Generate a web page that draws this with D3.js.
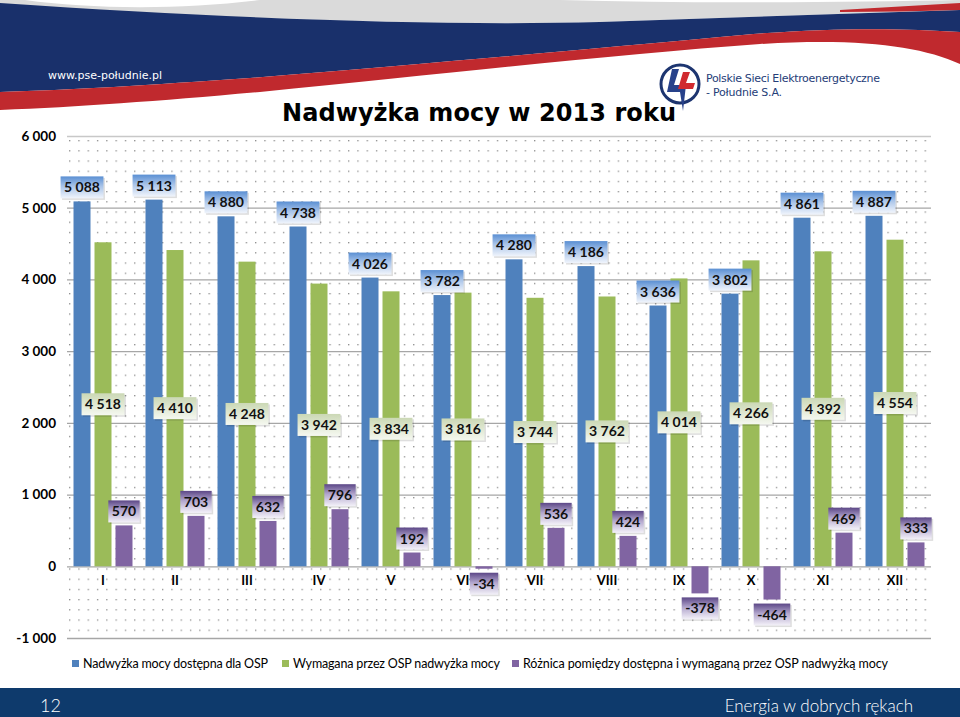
<!DOCTYPE html>
<html><head><meta charset="utf-8">
<script src="https://cdn.jsdelivr.net/npm/d3@7"></script>
<style>body{margin:0;background:#fff}svg{display:block}</style>
</head><body>
<svg id="c" width="960" height="717"></svg>
<script>
const months = ["I","II","III","IV","V","VI","VII","VIII","IX","X","XI","XII"];
const available = [5088,5113,4880,4738,4026,3782,4280,4186,3636,3802,4861,4887];
const required = [4518,4410,4248,3942,3834,3816,3744,3762,4014,4266,4392,4554];
const difference = [570,703,632,796,192,-34,536,424,-378,-464,469,333];
const yTicks = [-1000,0,1000,2000,3000,4000,5000,6000];
const seriesNames = ["Nadwyżka mocy dostępna dla OSP","Wymagana przez OSP nadwyżka mocy","Różnica pomiędzy dostępna i wymaganą przez OSP nadwyżką mocy"];
const colors = ["#4f81bd","#9bbb59","#8064a2"];
const title = "Nadwyżka mocy w 2013 roku";

const svg = d3.select("#c");
const plot = {left:67,right:931,top:136,bottom:638};
const x0 = d3.scaleBand().domain(months).range([plot.left,plot.right]);
const x1 = d3.scaleBand().domain([0,1,2]).range([0,x0.bandwidth()]).paddingInner(4/21).paddingOuter(0.31);
const y = d3.scaleLinear().domain([-1000,6000]).range([plot.bottom,plot.top]);
const loc = d3.formatLocale({decimal:",",thousands:" ",grouping:[3],currency:["",""],minus:"-"});
const fmt = loc.format(",d");

const defs = svg.append("defs");
const pat = defs.append("pattern").attr("id","dots").attr("patternUnits","userSpaceOnUse")
  .attr("x",69).attr("y",140).attr("width",9.3).attr("height",10.2);
pat.append("rect").attr("x",0).attr("y",0).attr("width",1.3).attr("height",1.3).attr("fill","#8c8c8c");
function grad(id, stops){
  const g = defs.append("linearGradient").attr("id",id).attr("x1",0).attr("y1",0).attr("x2",0).attr("y2",1);
  stops.forEach(s=>g.append("stop").attr("offset",s[0]).attr("stop-color",s[1]));
}
grad("gBlue",[[0,"#5a8fd3"],[0.45,"#a9c4e9"],[1,"#f1f5fc"]]);
grad("gGreen",[[0,"#cbd8b5"],[1,"#f5f8f0"]]);
grad("gPurple",[[0,"#5c4787"],[0.45,"#b2a6cd"],[1,"#f4f2f9"]]);
const labelFills = ["url(#gBlue)","url(#gGreen)","url(#gPurple)"];

// ---------- header ----------
const hdr = svg.append("g");
hdr.append("path").attr("d","M0,0 H960 V10 C840,14 720,18 600,22 C450,26 250,20 0,5 Z").attr("fill","#dadada");
hdr.append("path").attr("d","M25,0 C90,9 180,10 260,0 Z").attr("fill","#fff");
hdr.append("path").attr("d","M560,0 C700,4 850,2 960,0 Z").attr("fill","#fff");
hdr.append("path").attr("d","M0,3 C250,20 450,26 600,22 C720,18 840,14 960,10 L960,32 C900,28 820,27 720,37 C600,48 450,62 250,78 C150,85 70,90 0,92 Z").attr("fill","#19306b");
hdr.append("path").attr("d","M0,92 C70,90 150,85 250,78 C450,62 600,48 720,37 C820,27 900,28 960,32 L960,64 C920,46 860,38 760,44 C620,54 460,72 260,92 C160,101 80,107 0,110 Z").attr("fill","#c0292e");
hdr.append("path").attr("d","M840,10 C880,8 920,5 960,3 L960,10 C920,11 880,12 840,12 Z").attr("fill","#c0292e");
hdr.append("text").attr("x",48).attr("y",79).attr("fill","#fff")
  .style("font-family","DejaVu Sans").style("font-size","11px").attr("textLength",114).text("www.pse-południe.pl");

// logo
const logo = svg.append("g");
logo.append("circle").attr("cx",680).attr("cy",84).attr("r",19).attr("fill","#fff").attr("stroke","#1d3570").attr("stroke-width",3);
logo.append("path").attr("d","M672,69 L679,69 L674,85 L686,85 L683,111 L680,92 L667,92 Z").attr("fill","#27418a");
logo.append("path").attr("d","M683,72 L690,72 L686,83 L695,83 L693,89 L678,89 Z").attr("fill","#d02a2f");
logo.append("text").attr("x",706).attr("y",82).attr("fill","#253d78").style("font-family","DejaVu Sans").style("font-size","11px")
  .attr("textLength",174).text("Polskie Sieci Elektroenergetyczne");
logo.append("text").attr("x",706).attr("y",96).attr("fill","#253d78").style("font-family","DejaVu Sans").style("font-size","11px")
  .attr("textLength",76).text("- Południe S.A.");

// title
svg.append("text").attr("x",479).attr("y",121).attr("text-anchor","middle")
  .style("font-family","DejaVu Sans").style("font-weight","bold").style("font-size","24px")
  .attr("textLength",394).attr("fill","#000").text(title);

// ---------- plot background ----------
svg.append("rect").attr("x",plot.left).attr("y",plot.top).attr("width",plot.right-plot.left).attr("height",plot.bottom-plot.top).attr("fill","url(#dots)");

// gridlines
const grid = svg.append("g").attr("transform",`translate(${plot.left},0)`)
  .call(d3.axisLeft(y).tickValues(yTicks).tickSize(-(plot.right-plot.left)).tickFormat(""));
grid.select(".domain").remove();
grid.selectAll(".tick line").attr("stroke",d=>d===6000?"#c8c8c8":"#a6a6a6").attr("stroke-width",1.3);

// y tick labels
const yAx = svg.append("g").attr("transform",`translate(${plot.left},0)`)
  .call(d3.axisLeft(y).tickValues(yTicks).tickSize(0).tickPadding(11).tickFormat(fmt));
yAx.select(".domain").remove();
yAx.selectAll("text").style("font-family","Lato").style("font-weight","bold").style("font-size","13.5px").attr("fill","#000");

// bars
const seriesData = [available, required, difference];
const bars = svg.append("g");
seriesData.forEach((vals,si)=>{
  bars.selectAll(null).data(vals).enter().append("rect")
    .attr("x",(d,i)=>x0(months[i])+x1(si))
    .attr("width",x1.bandwidth())
    .attr("y",d=>y(Math.max(0,d)))
    .attr("height",d=>Math.abs(y(d)-y(0)))
    .attr("fill",colors[si]);
});

// month labels
const xAx = svg.append("g").attr("transform",`translate(0,${y(0)})`)
  .call(d3.axisBottom(x0).tickSize(0).tickPadding(9));
xAx.select(".domain").remove();
xAx.selectAll("text").style("font-family","Lato").style("font-weight","bold").style("font-size","13px").attr("fill","#000");

// data labels
const lbl = svg.append("g");
function addLabel(cx, cy, text, fill){
  const g = lbl.append("g");
  const t = g.append("text").attr("x",cx).attr("y",cy).attr("dy","0.36em").attr("text-anchor","middle")
    .style("font-family","Lato").style("font-weight","bold").style("font-size","14px").attr("fill","#111").text(text);
  const w = t.node().getComputedTextLength()+7, h=22;
  g.insert("rect","text").attr("x",cx-w/2+1.5).attr("y",cy-h/2+1.5).attr("width",w).attr("height",h).attr("fill","rgba(0,0,0,0.13)");
  g.insert("rect","text").attr("x",cx-w/2).attr("y",cy-h/2).attr("width",w).attr("height",h).attr("fill",fill);
}
months.forEach((m,i)=>{
  const bx = si => x0(m)+x1(si)+x1.bandwidth()/2;
  addLabel(bx(0), y(available[i])-14, fmt(available[i]), labelFills[0]);
  addLabel(bx(1), y(required[i]/2), fmt(required[i]), labelFills[1]);
  const d = difference[i];
  addLabel(bx(2), d>=0 ? y(d)-14 : y(d)+15, fmt(d), labelFills[2]);
});

// legend
const leg = svg.append("g");
const legX = [72,282,512], legW=[185,207,365];
seriesNames.forEach((n,i)=>{
  leg.append("rect").attr("x",legX[i]).attr("y",660).attr("width",7).attr("height",7).attr("fill",colors[i]);
  leg.append("text").attr("x",legX[i]+11).attr("y",668).attr("textLength",legW[i])
    .style("font-family","Lato").style("font-size","12.5px").attr("fill","#000").text(n);
});

// footer
svg.append("rect").attr("x",0).attr("y",688).attr("width",960).attr("height",29).attr("fill","#0e3a6c");
svg.append("text").attr("x",40).attr("y",712).attr("fill","#fff").style("font-family","Lato").style("font-weight","300").style("font-size","18px").text("12");
svg.append("text").attr("x",913).attr("y",712).attr("text-anchor","end").attr("fill","#fff").style("font-family","Lato").style("font-weight","300").style("font-size","17px").text("Energia w dobrych rękach");
</script>
</body></html>
